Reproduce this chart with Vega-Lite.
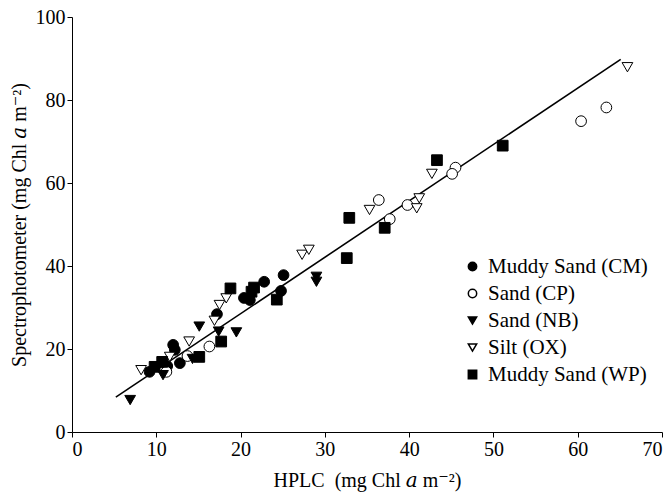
{
  "$schema": "https://vega.github.io/schema/vega-lite/v6.json",
  "width": 590,
  "height": 415,
  "autosize": "none",
  "padding": {"left": 72, "top": 17, "right": 9, "bottom": 65},
  "background": "white",
  "config": {
    "view": {"stroke": null},
    "font": "Liberation Serif",
    "axis": {
      "grid": false,
      "domainColor": "black",
      "tickColor": "black",
      "labelColor": "black",
      "titleColor": "black",
      "labelFont": "Liberation Serif",
      "titleFont": "Liberation Serif, DejaVu Serif",
      "labelFontSize": 20,
      "titleFontSize": 20,
      "titleFontWeight": "normal",
      "tickSize": 5,
      "labelPadding": 2
    },
    "legend": {
      "labelFont": "Liberation Serif",
      "labelFontSize": 21,
      "labelColor": "black"
    }
  },
  "datasets": {
    "pts": [
      {"s": "Muddy Sand (CM)", "x": 9.2, "y": 14.5},
      {"s": "Muddy Sand (CM)", "x": 12.0, "y": 21.0},
      {"s": "Muddy Sand (CM)", "x": 12.2, "y": 19.8},
      {"s": "Muddy Sand (CM)", "x": 12.8, "y": 16.6},
      {"s": "Muddy Sand (CM)", "x": 11.3, "y": 15.9},
      {"s": "Muddy Sand (CM)", "x": 17.2, "y": 28.4},
      {"s": "Muddy Sand (CM)", "x": 21.1, "y": 31.8},
      {"s": "Muddy Sand (CM)", "x": 20.4, "y": 32.3},
      {"s": "Muddy Sand (CM)", "x": 22.8, "y": 36.2},
      {"s": "Muddy Sand (CM)", "x": 25.1, "y": 37.8},
      {"s": "Muddy Sand (CM)", "x": 24.8, "y": 34.0},
      {"s": "Sand (CP)", "x": 11.2, "y": 14.5},
      {"s": "Sand (CP)", "x": 13.7, "y": 18.3},
      {"s": "Sand (CP)", "x": 16.3, "y": 20.6},
      {"s": "Sand (CP)", "x": 36.4, "y": 55.9},
      {"s": "Sand (CP)", "x": 37.7, "y": 51.3},
      {"s": "Sand (CP)", "x": 39.8, "y": 54.7},
      {"s": "Sand (CP)", "x": 45.5, "y": 63.7},
      {"s": "Sand (CP)", "x": 45.1, "y": 62.2},
      {"s": "Sand (CP)", "x": 60.4, "y": 74.9},
      {"s": "Sand (CP)", "x": 63.4, "y": 78.2},
      {"s": "Sand (NB)", "x": 6.9, "y": 7.7},
      {"s": "Sand (NB)", "x": 10.8, "y": 13.7},
      {"s": "Sand (NB)", "x": 15.1, "y": 25.4},
      {"s": "Sand (NB)", "x": 17.4, "y": 24.2},
      {"s": "Sand (NB)", "x": 19.5, "y": 24.0},
      {"s": "Sand (NB)", "x": 29.0, "y": 37.4},
      {"s": "Sand (NB)", "x": 29.0, "y": 36.2},
      {"s": "Sand (NB)", "x": 14.3, "y": 17.6},
      {"s": "Silt (OX)", "x": 8.2, "y": 14.9},
      {"s": "Silt (OX)", "x": 11.6, "y": 18.1},
      {"s": "Silt (OX)", "x": 13.9, "y": 21.8},
      {"s": "Silt (OX)", "x": 16.9, "y": 26.8},
      {"s": "Silt (OX)", "x": 17.5, "y": 30.6},
      {"s": "Silt (OX)", "x": 18.3, "y": 32.2},
      {"s": "Silt (OX)", "x": 27.3, "y": 42.7},
      {"s": "Silt (OX)", "x": 28.1, "y": 43.9},
      {"s": "Silt (OX)", "x": 35.3, "y": 53.5},
      {"s": "Silt (OX)", "x": 41.2, "y": 56.3},
      {"s": "Silt (OX)", "x": 40.9, "y": 53.9},
      {"s": "Silt (OX)", "x": 42.7, "y": 62.2},
      {"s": "Silt (OX)", "x": 65.9, "y": 87.9},
      {"s": "Muddy Sand (WP)", "x": 9.8, "y": 15.7},
      {"s": "Muddy Sand (WP)", "x": 10.7, "y": 16.9},
      {"s": "Muddy Sand (WP)", "x": 15.1, "y": 18.1},
      {"s": "Muddy Sand (WP)", "x": 17.7, "y": 21.8},
      {"s": "Muddy Sand (WP)", "x": 18.8, "y": 34.6},
      {"s": "Muddy Sand (WP)", "x": 21.6, "y": 34.8},
      {"s": "Muddy Sand (WP)", "x": 21.3, "y": 33.8},
      {"s": "Muddy Sand (WP)", "x": 24.3, "y": 31.9},
      {"s": "Muddy Sand (WP)", "x": 32.6, "y": 41.9},
      {"s": "Muddy Sand (WP)", "x": 32.9, "y": 51.6},
      {"s": "Muddy Sand (WP)", "x": 37.1, "y": 49.2},
      {"s": "Muddy Sand (WP)", "x": 43.3, "y": 65.5},
      {"s": "Muddy Sand (WP)", "x": 51.1, "y": 69.0}
    ],
    "fit": [
      {"x": 5.2, "y": 8.4},
      {"x": 65.1, "y": 89.8}
    ]
  },
  "layer": [
    {
      "data": {"name": "fit"},
      "mark": {"type": "line", "color": "black", "strokeWidth": 1.6},
      "encoding": {
        "x": {"field": "x", "type": "quantitative", "scale": {"domain": [0, 70], "nice": false}},
        "y": {"field": "y", "type": "quantitative", "scale": {"domain": [0, 100], "nice": false}}
      }
    },
    {
      "data": {"name": "pts"},
      "mark": {"type": "point", "filled": true, "stroke": "black", "strokeWidth": 1, "size": 115, "opacity": 1},
      "encoding": {
        "x": {
          "field": "x", "type": "quantitative",
          "scale": {"domain": [0, 70], "nice": false},
          "axis": {"values": [0, 10, 20, 30, 40, 50, 60, 70], "title": "HPLC\u00a0\u00a0(mg Chl 𝑎 m⁻²)", "titlePadding": 11}
        },
        "y": {
          "field": "y", "type": "quantitative",
          "scale": {"domain": [0, 100], "nice": false},
          "axis": {"values": [0, 20, 40, 60, 80, 100], "title": "Spectrophotometer (mg Chl 𝑎 m⁻²)", "titlePadding": 6}
        },
        "shape": {
          "field": "s", "type": "nominal",
          "scale": {
            "domain": ["Muddy Sand (CM)", "Sand (CP)", "Sand (NB)", "Silt (OX)", "Muddy Sand (WP)"],
            "range": ["circle", "circle", "triangle-down", "triangle-down", "square"]
          },
          "legend": {
            "title": null,
            "orient": "none",
            "legendX": 390,
            "legendY": 239,
            "symbolSize": 70,
            "rowPadding": 5,
            "labelOffset": 5,
            "encode": {"symbols": {"update": {"stroke": {"value": "black"}, "strokeWidth": {"value": 1}}}}
          }
        },
        "fill": {
          "field": "s", "type": "nominal",
          "scale": {
            "domain": ["Muddy Sand (CM)", "Sand (CP)", "Sand (NB)", "Silt (OX)", "Muddy Sand (WP)"],
            "range": ["black", "white", "black", "white", "black"]
          },
          "legend": {
            "title": null,
            "orient": "none",
            "legendX": 390,
            "legendY": 239,
            "symbolSize": 70,
            "rowPadding": 5,
            "labelOffset": 5,
            "encode": {"symbols": {"update": {"stroke": {"value": "black"}, "strokeWidth": {"value": 1}}}}
          }
        }
      }
    }
  ]
}
